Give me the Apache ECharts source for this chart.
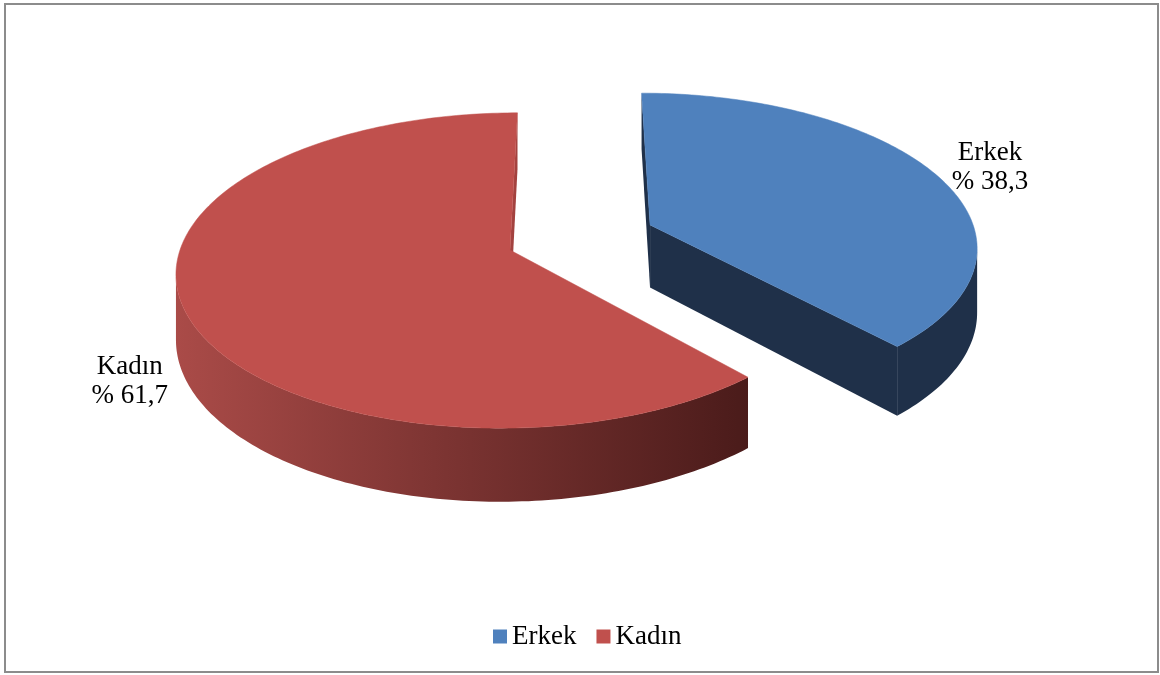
<!DOCTYPE html>
<html><head><meta charset="utf-8">
<script src="https://cdn.jsdelivr.net/npm/echarts@6/dist/echarts.min.js"></script>
<style>html,body{margin:0;padding:0;background:#fff}#c{width:1160px;height:675px}</style>
</head><body><div id="c"></div>
<script>
// ---- data ----
const categories = ['Erkek', 'Kadın'];
const values = [38.3, 61.7];

// ---- styles / layout (not data) ----
const topColors = ['#4f81bd', '#c0504d'];
const wallColors = [
  '#1f3049',
  {type: 'linear', x: 175, y: 0, x2: 750, y2: 0, global: true,
   colorStops: [{offset: 0, color: '#aa4b48'}, {offset: 0.45, color: '#7e3533'}, {offset: 1, color: '#4a1b1a'}]}
];
const faceColors = ['#1f3049', '#a3423f'];
const explodeAmount = [0.46, 0];
const P = {cx: 510, cy: 250, rx: 330, ry: 155, k: 0.13, vx: 575, depth: 64};

const total = values.reduce((a, b) => a + b, 0);
const starts = [];
let acc = 0;
values.forEach(v => { starts.push(acc / total * 360); acc += v; });

function proj(X, Z, h) {
  const s = 1 / (1 + P.k * Z);
  const px = P.cx + P.rx * X;
  return [P.vx + (px - P.vx) * s, P.cy - P.ry * Z * s + P.depth * h * s];
}
function area(pts) {
  let a = 0;
  for (let i = 0; i < pts.length; i++) {
    const p = pts[i], q = pts[(i + 1) % pts.length];
    a += p[0] * q[1] - q[0] * p[1];
  }
  return a / 2;
}
const rad = d => d * Math.PI / 180;

function makeRender(i) {
  return function (params, api) {
    const v = api.value(0);
    const a0 = starts[i], a1 = a0 + v / total * 360, mid = (a0 + a1) / 2;
    const e = explodeAmount[i];
    const ox = e * Math.sin(rad(mid)), oz = e * Math.cos(rad(mid));
    const pt = (th, h) => proj(ox + Math.sin(rad(th)), oz + Math.cos(rad(th)), h);
    const cT = proj(ox, oz, 0), cB = proj(ox, oz, 1);
    const children = [];
    // cut faces
    const sf = [cT, pt(a0, 0), pt(a0, 1), cB];
    if (area(sf) < -0.5) children.push({type: 'polygon', shape: {points: sf}, style: {fill: faceColors[i]}});
    const ef = [cT, pt(a1, 0), pt(a1, 1), cB];
    if (area(ef) > 0.5) children.push({type: 'polygon', shape: {points: ef}, style: {fill: faceColors[i]}});
    // outer wall, visible runs
    const n = Math.max(2, Math.ceil((a1 - a0) / 1));
    const ths = [];
    for (let j = 0; j <= n; j++) ths.push(a0 + (a1 - a0) * j / n);
    let run = null;
    const flush = () => {
      if (run && run.length > 1) {
        const top = run.map(t => pt(t, 0));
        const bot = run.map(t => pt(t, 1)).reverse();
        children.push({type: 'polygon', shape: {points: top.concat(bot)}, style: {fill: wallColors[i]}});
      }
      run = null;
    };
    for (let j = 0; j < n; j++) {
      const q = [pt(ths[j], 0), pt(ths[j + 1], 0), pt(ths[j + 1], 1), pt(ths[j], 1)];
      if (area(q) < 0) {
        if (!run) run = [ths[j]];
        run.push(ths[j + 1]);
      } else flush();
    }
    flush();
    // top face
    const topPts = [cT];
    ths.forEach(t => topPts.push(pt(t, 0)));
    children.push({type: 'polygon', shape: {points: topPts}, style: {fill: topColors[i], stroke: topColors[i], lineWidth: 0.5}});
    // label
    const right = Math.sin(rad(mid)) > 0;
    const anc = right ? pt(mid, 0) : pt(mid, 1);
    children.push({
      type: 'text',
      x: anc[0] + (right ? 55 : -54),
      y: anc[1] + (right ? -6 : 6),
      style: {
        text: categories[i] + '\n% ' + String(v).replace('.', ','),
        fontFamily: 'Liberation Serif', fontSize: 27, lineHeight: 29,
        fill: '#000', align: 'center', verticalAlign: 'middle'
      }
    });
    return {type: 'group', children: children};
  };
}

const chart = echarts.init(document.getElementById('c'), null, {renderer: 'canvas'});
chart.setOption({
  animation: false,
  backgroundColor: '#fff',
  graphic: [{type: 'rect', shape: {x: 5, y: 4, width: 1153, height: 668},
             style: {fill: 'none', stroke: '#8c8c8c', lineWidth: 2}, silent: true}],
  legend: {
    data: categories,
    left: 493, top: 623, padding: 0,
    icon: 'rect', itemWidth: 14, itemHeight: 14, itemGap: 20,
    textStyle: {fontFamily: 'Liberation Serif', fontSize: 27, color: '#000'},
    selectedMode: false
  },
  series: categories.map((name, i) => ({
    type: 'custom',
    name: name,
    coordinateSystem: 'none',
    itemStyle: {color: topColors[i]},
    silent: true,
    data: [[values[i]]],
    renderItem: makeRender(i)
  }))
});
</script>
</body></html>
